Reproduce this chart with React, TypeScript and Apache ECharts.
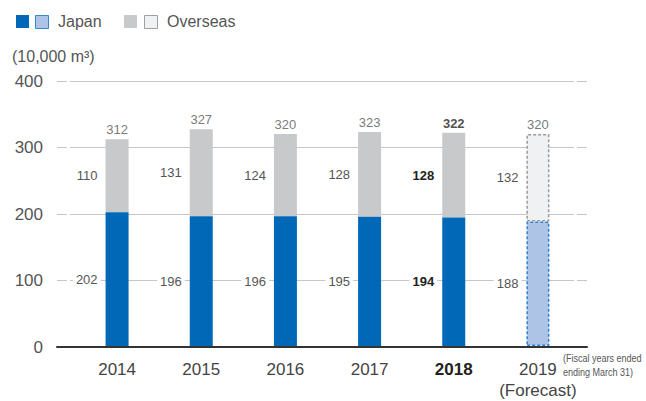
import React, { useEffect, useRef } from "react";
import * as echarts from "echarts";

const years = ["2014", "2015", "2016", "2017", "2018", "2019"];
const japan = [202, 196, 196, 195, 194, 188];
const overseas = [110, 131, 124, 128, 128, 132];
const totals = [312, 327, 320, 323, 322, 320];
const yTicks = [0, 100, 200, 300, 400];
const boldIndex = 4;
const forecastIndex = 5;

const FONT = "'Liberation Sans', Arial, sans-serif";
const BLUE = "#0068b7";
const GRAY = "#c8c9cb";
const LBLUE = "#aec4e6";
const LGRAY = "#f0f1f3";
const TXT = "#555";

export default function App() {
  const ref = useRef<HTMLDivElement>(null);
  useEffect(() => {
    if (!ref.current) return;
    const chart = echarts.init(ref.current, null, { renderer: "svg" });
    const top = 81;
    const bottom = 54;
    const yMin = yTicks[0];
    const yMax = yTicks[yTicks.length - 1];
    const yInt = yTicks[1] - yTicks[0];

    const valLabel = (i: number) => ({
      show: true,
      position: "left",
      distance: 5,
      fontFamily: FONT,
      fontSize: 13,
      color: i === boldIndex ? "#222" : TXT,
      fontWeight: i === boldIndex ? "bold" : "normal",
      backgroundColor: "#fff",
      padding: [1, 3],
    });

    const option: any = {
      animation: false,
      textStyle: { fontFamily: FONT },
      grid: [
        { left: 57, right: 59, top, bottom },
        { left: 75, right: 66, top, bottom },
        { left: 70, right: 74, top, bottom },
      ],
      xAxis: [
        {
          gridIndex: 0,
          type: "value",
          min: 0,
          max: 1,
          z: 10,
          axisLine: { show: true, lineStyle: { color: "#333", width: 2 } },
          axisTick: { show: false },
          axisLabel: { show: false },
          splitLine: { show: false },
        },
        {
          gridIndex: 1,
          type: "category",
          data: years,
          axisLine: { show: false },
          axisTick: { show: false },
          axisLabel: {
            interval: 0,
            margin: 13,
            fontSize: 17,
            color: "#444",
            fontFamily: FONT,
            lineHeight: 21,
            formatter: (v: string, i: number) => {
              if (i === boldIndex) return "{b|" + v + "}";
              if (i === forecastIndex) return v + "\n(Forecast)";
              return v;
            },
            rich: {
              b: { fontWeight: "bold", color: "#222", fontSize: 17, fontFamily: FONT },
            },
          },
        },
        {
          gridIndex: 2,
          type: "value",
          min: 0,
          max: 1,
          show: false,
        },
      ],
      yAxis: [
        {
          gridIndex: 0,
          type: "value",
          min: yMin,
          max: yMax,
          interval: yInt,
          axisLine: { show: false },
          axisTick: { show: false },
          axisLabel: { margin: 14, fontSize: 17, color: TXT, fontFamily: FONT },
          splitLine: {
            show: true,
            showMinLine: false,
            lineStyle: { color: "#c6c6c6", width: 1, type: [10, 3] },
          },
        },
        {
          gridIndex: 1,
          type: "value",
          min: yMin,
          max: yMax,
          interval: yInt,
          show: false,
        },
        {
          gridIndex: 2,
          type: "value",
          min: yMin,
          max: yMax,
          interval: yInt,
          axisLine: { show: false },
          axisTick: { show: false },
          axisLabel: { show: false },
          splitLine: {
            show: true,
            showMinLine: false,
            lineStyle: { color: "#c6c6c6", width: 1 },
          },
        },
      ],
      series: [
        {
          name: "Japan",
          type: "bar",
          xAxisIndex: 1,
          yAxisIndex: 1,
          stack: "total",
          barWidth: 23,
          z: 3,
          data: japan.map((v, i) => ({
            value: v,
            label: valLabel(i),
            itemStyle:
              i === forecastIndex
                ? { color: LBLUE, borderColor: "#2f80d2", borderWidth: 1.5, borderType: [3, 2] }
                : { color: BLUE },
          })),
        },
        {
          name: "Overseas",
          type: "bar",
          xAxisIndex: 1,
          yAxisIndex: 1,
          stack: "total",
          barWidth: 23,
          z: 2,
          data: overseas.map((v, i) => ({
            value: v,
            label: valLabel(i),
            itemStyle:
              i === forecastIndex
                ? { color: LGRAY, borderColor: "#9a9a9a", borderWidth: 1.5, borderType: [3, 2] }
                : { color: GRAY },
          })),
        },
        {
          name: "Total",
          type: "scatter",
          xAxisIndex: 1,
          yAxisIndex: 1,
          symbolSize: 0,
          silent: true,
          data: totals.map((v, i) => ({
            value: v,
            label: {
              show: true,
              position: "top",
              distance: 3,
              fontFamily: FONT,
              fontSize: 13,
              color: i === boldIndex ? "#222" : TXT,
              fontWeight: i === boldIndex ? "bold" : "normal",
            },
          })),
        },
      ],
      graphic: [
        { type: "rect", left: 16, top: 15, shape: { width: 13, height: 13 }, style: { fill: BLUE } },
        {
          type: "rect",
          left: 35,
          top: 15,
          shape: { width: 13, height: 13 },
          style: { fill: LBLUE, stroke: "#3a86d0", lineWidth: 1 },
        },
        {
          type: "text",
          left: 58,
          top: 13,
          style: { text: "Japan", fontSize: 16, fill: TXT, fontFamily: FONT },
        },
        { type: "rect", left: 124, top: 15, shape: { width: 13, height: 13 }, style: { fill: GRAY } },
        {
          type: "rect",
          left: 144,
          top: 15,
          shape: { width: 13, height: 13 },
          style: { fill: LGRAY, stroke: "#a0a0a0", lineWidth: 1 },
        },
        {
          type: "text",
          left: 167,
          top: 13,
          style: { text: "Overseas", fontSize: 16, fill: TXT, fontFamily: FONT },
        },
        {
          type: "text",
          left: 12,
          top: 48,
          style: { text: "(10,000 m³)", fontSize: 16, fill: TXT, fontFamily: FONT },
        },
        {
          type: "text",
          x: 563,
          y: 351,
          scaleX: 0.82,
          style: {
            text: "(Fiscal years ended\nending March 31)",
            fontSize: 11,
            lineHeight: 14,
            fill: TXT,
            fontFamily: FONT,
          },
        },
      ],
    };
    chart.setOption(option);
    return () => chart.dispose();
  }, []);
  return <div ref={ref} style={{ width: 646, height: 401, position: "absolute", left: 0, top: 0 }} />;
}
